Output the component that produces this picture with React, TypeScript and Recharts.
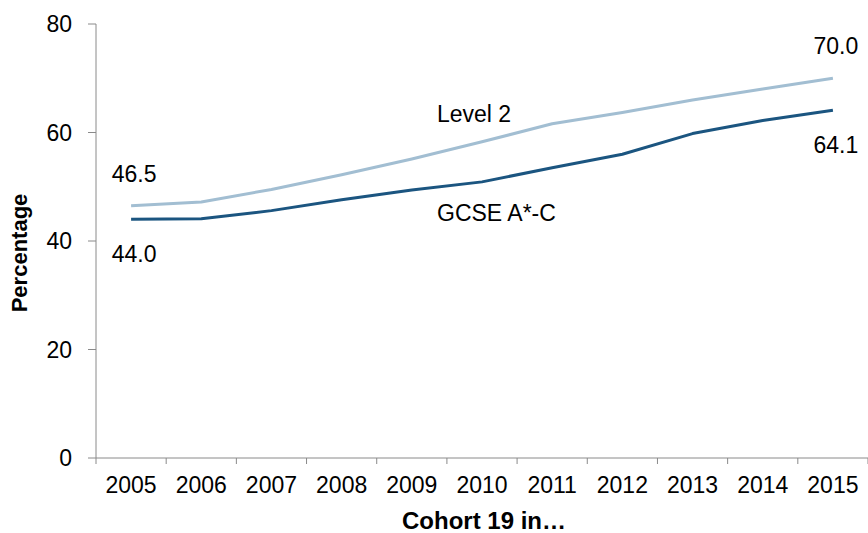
import React from 'react';
import { LineChart, Line, XAxis, YAxis, LabelList } from 'recharts';

const years = ['2005', '2006', '2007', '2008', '2009', '2010', '2011', '2012', '2013', '2014', '2015'];
const level2 = [46.5, 47.2, 49.5, 52.2, 55.1, 58.3, 61.6, 63.7, 66.0, 68.0, 70.0];
const gcse = [44.0, 44.1, 45.6, 47.6, 49.4, 50.9, 53.5, 56.0, 59.8, 62.2, 64.1];
const yTicks = [0, 20, 40, 60, 80];
const seriesNames = { level2: 'Level 2', gcse: 'GCSE A*-C' };

const data = years.map((y, i) => ({ year: y, level2: level2[i], gcse: gcse[i] }));

const FONT = '"Liberation Sans", Arial, sans-serif';
const AXIS = '#8a8a8a';
const W = 868;
const H = 533;
const LEFT = 96;
const TOP = 24;
const XH = 75;
const BAND = (W - LEFT) / years.length;

const XTick = (props: any) => {
  const { x, y, payload, index } = props;
  const axisY = y - 19;
  return (
    <g>
      <line x1={x - BAND / 2} y1={axisY} x2={x - BAND / 2} y2={axisY + 6} stroke={AXIS} strokeWidth={1} />
      {index === years.length - 1 && (
        <line x1={x + BAND / 2} y1={axisY} x2={x + BAND / 2} y2={axisY + 6} stroke={AXIS} strokeWidth={1} />
      )}
      <text x={x} y={y} dy="0.71em" textAnchor="middle" fontFamily={FONT} fontSize={23} fill="#000">
        {payload.value}
      </text>
    </g>
  );
};

const makeValueLabel = (above: boolean) => (props: any) => {
  const { x, y, value, index } = props;
  if (index !== 0 && index !== years.length - 1) return null;
  return (
    <text x={x + 3} y={y + (above ? -32 : 35)} dy="0.35em" textAnchor="middle" fontFamily={FONT} fontSize={23} fill="#000">
      {Number(value).toFixed(1)}
    </text>
  );
};

const makeNameLabel = (name: string, above: boolean) => (props: any) => {
  const { x, y, index } = props;
  if (index !== 5) return null;
  return (
    <text x={x - 45} y={y + (above ? -28 : 31)} dy="0.35em" textAnchor="start" fontFamily={FONT} fontSize={23} fill="#000">
      {name}
    </text>
  );
};

export default function App() {
  return (
    <div style={{ position: 'absolute', left: 0, top: 0, width: W, height: H, background: '#fff' }}>
      <LineChart width={W} height={H} data={data} margin={{ top: TOP, right: 0, left: 0, bottom: 0 }}>
        <XAxis
          dataKey="year"
          height={XH}
          padding={{ left: BAND / 2, right: BAND / 2 }}
          axisLine={{ stroke: AXIS, strokeWidth: 1 }}
          tickLine={false}
          tickSize={6}
          tickMargin={13}
          interval={0}
          tick={<XTick />}
          label={(p: any) => {
            const vb = p.viewBox || {};
            return (
              <text x={vb.x + vb.width / 2 + 2} y={529} textAnchor="middle" fontFamily={FONT} fontSize={24} fontWeight="bold" fill="#000">
                Cohort 19 in…
              </text>
            );
          }}
        />
        <YAxis
          width={LEFT}
          domain={[0, 80]}
          ticks={yTicks}
          interval={0}
          tickSize={8}
          tickMargin={16}
          axisLine={{ stroke: AXIS, strokeWidth: 1 }}
          tickLine={{ stroke: AXIS, strokeWidth: 1 }}
          tick={{ fontFamily: FONT, fontSize: 23, fill: '#000' }}
          label={() => (
            <text transform="translate(27,253) rotate(-90)" x={0} y={0} textAnchor="middle" fontFamily={FONT} fontSize={22} fontWeight="bold" fill="#000">
              Percentage
            </text>
          )}
        />
        <Line type="linear" dataKey="level2" stroke="#A2BED2" strokeWidth={3} strokeLinejoin="round" dot={false} isAnimationActive={false}>
          <LabelList dataKey="level2" content={makeValueLabel(true)} />
          <LabelList dataKey="level2" content={makeNameLabel(seriesNames.level2, true)} />
        </Line>
        <Line type="linear" dataKey="gcse" stroke="#1B5580" strokeWidth={3} strokeLinejoin="round" dot={false} isAnimationActive={false}>
          <LabelList dataKey="gcse" content={makeValueLabel(false)} />
          <LabelList dataKey="gcse" content={makeNameLabel(seriesNames.gcse, false)} />
        </Line>
      </LineChart>
    </div>
  );
}
